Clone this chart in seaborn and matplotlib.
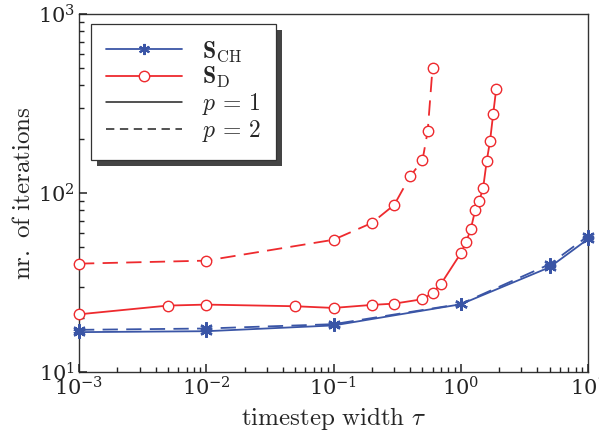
import numpy as np
import pandas as pd
import matplotlib
matplotlib.use("Agg")
import matplotlib.pyplot as plt
import matplotlib.patheffects as pe
from matplotlib.lines import Line2D
import seaborn as sns

# ---- data ----
tau_ch = [1e-3, 1e-2, 1e-1, 1.0, 5.0, 10.0]
it_ch_p1 = [16.7, 16.9, 18.2, 23.9, 38.5, 55.3]
it_ch_p2 = [17.2, 17.5, 18.5, 24.0, 40.0, 57.5]

tau_d_p1 = [1e-3, 5e-3, 1e-2, 5e-2, 1e-1, 2e-1, 3e-1, 5e-1, 6e-1, 7e-1,
            1.0, 1.1, 1.2, 1.3, 1.4, 1.5, 1.6, 1.7, 1.8, 1.9]
it_d_p1 = [21.0, 23.5, 23.8, 23.3, 22.8, 23.7, 24.1, 25.5, 27.7, 31.1,
           46.0, 53.0, 63.0, 80.5, 90.6, 107.0, 151.0, 196.0, 278.0, 382.0]

tau_d_p2 = [1e-3, 1e-2, 1e-1, 2e-1, 3e-1, 4e-1, 5e-1, 5.5e-1, 6e-1]
it_d_p2 = [40.3, 41.9, 54.8, 68.0, 85.8, 124.0, 152.0, 222.0, 499.0]

legend_labels = [r'$\mathbf{S}_{\mathrm{CH}}$', r'$\mathbf{S}_{\mathrm{D}}$',
                 r'$p\,=\,1$', r'$p\,=\,2$']
xlabel = r'$\mathrm{timestep\ width}\ \tau$'
ylabel = r'$\mathrm{nr.\ of\ iterations}$'

blue = '#3a55a6'
red = '#ee2a2e'

sns.set_style('ticks')
plt.rcParams['font.family'] = ['DejaVu Serif']
plt.rcParams['mathtext.fontset'] = 'cm'
plt.rcParams['lines.scale_dashes'] = False
plt.rcParams['axes.axisbelow'] = False
for a in ('xtick', 'ytick'):
    plt.rcParams[a + '.direction'] = 'in'
    plt.rcParams[a + '.color'] = '#222222'
    plt.rcParams[a + '.major.size'] = 6
    plt.rcParams[a + '.minor.size'] = 3.5
    plt.rcParams[a + '.major.width'] = 1.1
    plt.rcParams[a + '.minor.width'] = 1.0
    plt.rcParams[a + '.labelsize'] = 15

fig = plt.figure(figsize=(5.99, 4.33), dpi=100)
ax = fig.add_axes([79 / 599, 61 / 433, 509 / 599, 358 / 433])
ax.set_axisbelow(False)

dash = (0, (11, 6))

def draw(x, y, color, marker, ls, ms, mew, mfc):
    df = pd.DataFrame({'x': x, 'y': y})
    sns.lineplot(data=df, x='x', y='y', ax=ax, color=color, linestyle=ls,
                 marker=marker, markersize=ms, markeredgewidth=mew,
                 markerfacecolor=mfc, markeredgecolor=color, lw=1.3,
                 sort=False, estimator=None, clip_on=False, zorder=3)

ast = (6, 2, 0)
draw(tau_ch, it_ch_p1, blue, ast, '-', 9, 1.6, blue)
draw(tau_ch, it_ch_p2, blue, ast, dash, 9, 1.6, blue)
draw(tau_d_p1, it_d_p1, red, 'o', '-', 7.5, 1.0, 'white')
draw(tau_d_p2, it_d_p2, red, 'o', dash, 7.5, 1.0, 'white')

ax.set_xscale('log')
ax.set_yscale('log')
ax.set_xlim(1e-3, 10)
ax.set_ylim(10, 1000)
ax.xaxis.set_major_locator(matplotlib.ticker.LogLocator(base=10, numticks=10))
ax.xaxis.set_minor_locator(matplotlib.ticker.LogLocator(base=10, subs=np.arange(2, 10), numticks=20))
ax.yaxis.set_minor_locator(matplotlib.ticker.LogLocator(base=10, subs=np.arange(2, 10), numticks=20))

ax.set_xlabel(xlabel, fontsize=18, labelpad=4)
ax.set_ylabel(ylabel, fontsize=18, labelpad=2)

for s in ax.spines.values():
    s.set_color('#333333')
    s.set_linewidth(1.0)

ax.tick_params(which='both', direction='in', bottom=True, left=True,
               top=False, right=False)
ax.tick_params(which='major', length=6, width=1.1, pad=3)
ax.tick_params(which='minor', length=3.5, width=1.0)

handles = [
    Line2D([], [], color=blue, marker=ast, ms=8, mew=1.5, lw=1.3),
    Line2D([], [], color=red, marker='o', ms=7.5, mfc='white', mew=1.0, lw=1.3),
    Line2D([], [], color='#222222', lw=1.1),
    Line2D([], [], color='#222222', lw=1.1, linestyle=(0, (6, 4))),
]
leg = ax.legend(handles, legend_labels, loc='upper left',
                bbox_to_anchor=(12 / 509, (358 - 10) / 358), borderaxespad=0,
                fontsize=17, handlelength=3.2, handletextpad=0.85,
                labelspacing=0.05, borderpad=0.65, fancybox=False,
                framealpha=1, edgecolor='#333333')
frame = leg.get_frame()
frame.set_linewidth(0.9)
frame.set_path_effects([pe.SimplePatchShadow(offset=(4.3, -4.3), shadow_rgbFace='#444444', alpha=1.0), pe.Normal()])

fig.savefig('out.png', dpi=100)
